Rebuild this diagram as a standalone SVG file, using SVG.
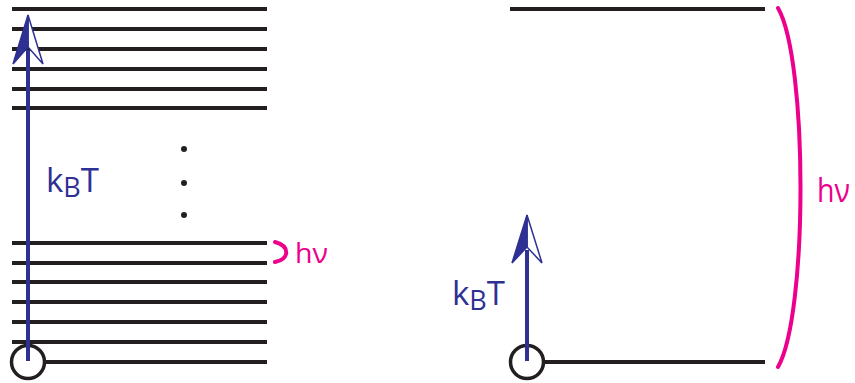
<svg xmlns="http://www.w3.org/2000/svg" width="855" height="383" viewBox="0 0 855 383">
<style>
.lvl{stroke:#231f20;stroke-width:4;fill:none}
.stem{stroke:#2e3192;stroke-width:4;fill:none}
.headL{fill:#2e3192;stroke:#2e3192;stroke-width:1.5;stroke-linejoin:miter}
.headR{fill:#fff;stroke:#2e3192;stroke-width:1.5;stroke-linejoin:miter}
.ring{fill:none;stroke:#231f20;stroke-width:3.5}
.brk{fill:none;stroke:#ec008c;stroke-width:4;stroke-linecap:round}
.blue{fill:#2e3192;font-family:'Open Sans','Liberation Sans',sans-serif}
.pink{fill:#ec008c;font-family:'Open Sans','Liberation Sans',sans-serif}
.dot{fill:#231f20}
</style>
<rect width="855" height="383" fill="#fff"/>
<g id="left-levels">
<line class="lvl" x1="12" y1="9" x2="267" y2="9"/>
<line class="lvl" x1="12" y1="29" x2="267" y2="29"/>
<line class="lvl" x1="12" y1="49" x2="267" y2="49"/>
<line class="lvl" x1="12" y1="69" x2="267" y2="69"/>
<line class="lvl" x1="12" y1="89" x2="267" y2="89"/>
<line class="lvl" x1="12" y1="108" x2="267" y2="108"/>
<line class="lvl" x1="12" y1="243" x2="267" y2="243"/>
<line class="lvl" x1="12" y1="263" x2="267" y2="263"/>
<line class="lvl" x1="12" y1="282" x2="267" y2="282"/>
<line class="lvl" x1="12" y1="302" x2="267" y2="302"/>
<line class="lvl" x1="12" y1="322" x2="267" y2="322"/>
<line class="lvl" x1="12" y1="342" x2="267" y2="342"/>
<line class="lvl" x1="46" y1="362" x2="267" y2="362"/>
<circle class="dot" cx="184" cy="149" r="3"/>
<circle class="dot" cx="184" cy="183" r="3"/>
<circle class="dot" cx="184" cy="215" r="3"/>
</g>
<g id="left-particle">
<circle class="ring" cx="28" cy="362" r="16.5"/>
</g>
<g id="right-levels">
<line class="lvl" x1="510" y1="9" x2="765" y2="9"/>
<line class="lvl" x1="545" y1="362" x2="765" y2="362"/>
</g>
<g id="right-particle">
<circle class="ring" cx="527" cy="362" r="16.5"/>
</g>
<g id="connectors">
<line class="stem" x1="28" y1="361" x2="28" y2="50"/>
<polygon class="headR" points="28,15 43,64 28,47"/>
<polygon class="headL" points="28,15 13,64 28,47"/>
<line class="stem" x1="527" y1="361" x2="527" y2="250"/>
<polygon class="headR" points="527,215 542,263 527,247"/>
<polygon class="headL" points="527,215 512,263 527,247"/>
<path class="brk" d="M275,242 C290,246 290,259 275,262"/>
<path class="brk" d="M778,8 C808,60 808,315 778,367"/>
</g>
<g id="labels">
<text class="blue" x="46" y="192" font-size="33"><tspan>k</tspan><tspan font-size="27" dy="5">B</tspan><tspan dy="-5">T</tspan></text>
<text class="blue" x="452" y="305" font-size="33"><tspan>k</tspan><tspan font-size="27" dy="5">B</tspan><tspan dy="-5">T</tspan></text>
<text class="pink" x="295" y="263" font-size="28" textLength="33" lengthAdjust="spacingAndGlyphs">hν</text>
<text class="pink" x="817" y="202" font-size="33" textLength="33" lengthAdjust="spacingAndGlyphs">hν</text>
</g>
</svg>
